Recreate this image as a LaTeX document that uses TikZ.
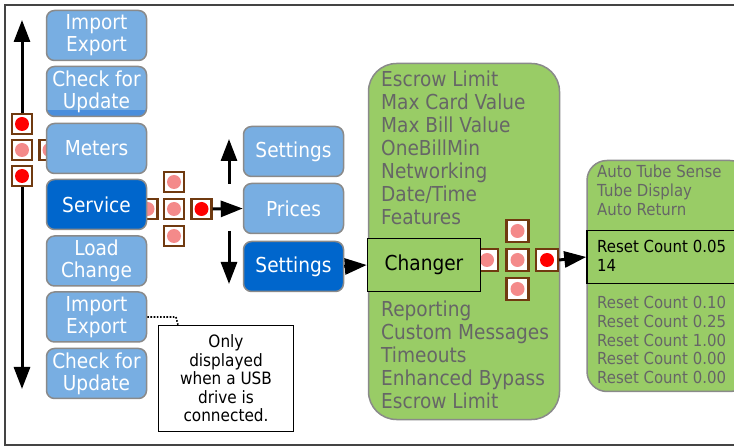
\documentclass[tikz,border=0pt]{standalone}
\usepackage{fontspec}
\setmainfont{DejaVu Sans}[FakeStretch=0.9]
\usetikzlibrary{arrows.meta}
\definecolor{lblue}{HTML}{78AEE2}
\definecolor{dblue}{HTML}{0066CC}
\definecolor{boxgray}{HTML}{8A8A8A}
\definecolor{lgreen}{HTML}{99CC66}
\definecolor{txtgray}{HTML}{666666}
\definecolor{brownsq}{HTML}{703A10}
\definecolor{pinkdot}{HTML}{F48A8A}
\definecolor{reddot}{HTML}{FF0000}
\definecolor{stripblue}{HTML}{4A8EDC}
\definecolor{framegray}{HTML}{444444}
\begin{document}
\begin{tikzpicture}[x=1pt,y=-1pt,
  menubox/.style={draw=boxgray, line width=1.5pt, rounded corners=8pt, minimum width=100pt, minimum height=50pt, inner sep=0pt, align=center, text=white, font=\fontsize{20.6}{22}\selectfont, fill=lblue},
  selbox/.style={menubox, fill=dblue},
  dsq/.style={draw=brownsq, line width=2.2pt, fill=white, minimum size=20pt, inner sep=0pt},
  bigsq/.style={dsq, minimum size=22pt},
  arr/.style={line width=3pt, -{Triangle[length=22pt,width=16pt]}},
  graytxt/.style={anchor=base west, text=txtgray, inner sep=0pt, font=\fontsize{20.6}{22}\selectfont},
  smalltxt/.style={anchor=base west, text=txtgray, inner sep=0pt, font=\fontsize{16.6}{18}\selectfont},
  blacksmall/.style={smalltxt, text=black},
  greenbox/.style={draw=boxgray, line width=1.5pt, fill=lgreen, inner sep=0pt},
  framebox/.style={draw=black, line width=1.5pt, inner sep=0pt}
]
\useasboundingbox (0,0) rectangle (734,446);
\clip (0,0) rectangle (734,446);
\fill[white] (0,0) rectangle (734,446);
\draw[framegray, line width=1.5pt] (5,5) rectangle (760,445);

% left column selector squares
\node[dsq] (s4) at (49.5,150) {};
\node[dsq] (s1) at (22,124) {};
\node[dsq] (s2) at (22,150) {};
\node[dsq] (s3) at (22,176) {};
\fill[pinkdot] (s4) circle (7);
\fill[reddot] (s1) circle (7);
\fill[pinkdot] (s2) circle (7);
\fill[reddot] (s3) circle (7);
\coordinate (lTop) at (22,20);
\coordinate (lBot) at (22,389);
\draw[arr] (s1.north) -- (lTop);
\draw[arr] (s3.south) -- (lBot);

% service cross (behind boxes)
\node[dsq] (sl) at (147.5,209) {};
\node[dsq] (sc) at (174,209) {};
\node[dsq] (st) at (174,182) {};
\node[dsq] (sb) at (174,236) {};
\node[dsq] (sr) at (201.5,209) {};
\fill[pinkdot] (sl) circle (7);
\fill[pinkdot] (sc) circle (7);
\fill[pinkdot] (st) circle (7);
\fill[pinkdot] (sb) circle (7);
\fill[reddot] (sr) circle (7);

% left column boxes
\node[menubox] (imp1) at (96.5,35.5) {Import\\Export};
\fill[lblue, rounded corners=8pt] (46.75,66.75) rectangle (146.25,116.25);
\begin{scope}
  \clip[rounded corners=8pt] (46.75,66.75) rectangle (146.25,116.25);
  \fill[stripblue] (40,110) rectangle (150,120);
\end{scope}
\node[menubox, fill=none] (chk1) at (96.5,91.5) {Check for\\Update};
\node[menubox] (met) at (96.5,148.5) {Meters};
\node[selbox] (srv) at (96.5,204.5) {Service};
\node[menubox] (load) at (96.5,261) {Load\\Change};
\node[menubox] (imp2) at (96.5,317) {Import\\Export};
\node[menubox] (chk2) at (96.5,373.5) {Check for\\Update};

% note
\node[framebox, minimum width=135pt, minimum height=106pt, align=center, font=\fontsize{17}{18.5}\selectfont] (note) at (226,378.5) {Only\\displayed\\when a USB\\drive is\\connected.};
\coordinate (dotc) at (176,317);
\coordinate (dotd) at (178,325);
\draw[line width=1.6pt, dash pattern=on 1.6pt off 1.6pt] (imp2.east) -- (dotc) -- (dotd);

% middle column
\node[menubox] (set1) at (293.5,151.5) {Settings};
\node[menubox] (pri) at (293.5,208.5) {Prices};
\node[selbox] (set2) at (293.5,266.5) {Settings};
\draw[arr] (sr.east) -- (pri.west);
\coordinate (upA) at (229,184);
\coordinate (upB) at (229,139);
\coordinate (dnA) at (229,231);
\coordinate (dnB) at (229,284);
\draw[arr] (upA) -- (upB);
\draw[arr] (dnA) -- (dnB);

% big green box
\node[greenbox, rounded corners=28pt, minimum width=191pt, minimum height=356pt] (big) at (464,241.5) {};
\foreach \t [count=\i from 0] in {Escrow Limit,Max Card Value,Max Bill Value,OneBillMin,Networking,Date/Time,Features}
  \node[graytxt] (bt\i) at (381,87+22.9*\i) {\t};
\foreach \t [count=\i from 0] in {Reporting,Custom Messages,Timeouts,Enhanced Bypass,Escrow Limit}
  \node[graytxt] (bb\i) at (381,317+22.8*\i) {\t};

% changer cross
\node[bigsq] (cl) at (487,260) {};
\node[bigsq] (cc) at (517.5,260) {};
\node[bigsq] (ct) at (517.5,231) {};
\node[bigsq] (cb) at (517.5,289) {};
\node[bigsq] (cr) at (547,260) {};
\fill[pinkdot] (cl) circle (7);
\fill[pinkdot] (cc) circle (7);
\fill[pinkdot] (ct) circle (7);
\fill[pinkdot] (cb) circle (7);
\fill[reddot] (cr) circle (7);

\node[framebox, fill=lgreen, minimum width=113pt, minimum height=53pt, font=\fontsize{20.6}{22}\selectfont] (chg) at (424,265) {Changer};
\draw[arr] (set2.east) -- (chg.west);

% right green box
\node[greenbox, rounded corners=20pt, minimum width=163pt, minimum height=231pt] (rbox) at (668.5,276) {};
\node[framebox, fill=lgreen, minimum width=163pt, minimum height=53pt] (reset) at (668.5,257) {};
\draw[arr] (cr.east) -- (reset.west);
\foreach \t [count=\i from 0] in {Auto Tube Sense,Tube Display,Auto Return}
  \node[smalltxt] (ra\i) at (597,178+18.7*\i) {\t};
\node[blacksmall] (r05) at (597,253) {Reset Count 0.05};
\node[blacksmall] (r14) at (597,272) {14};
\foreach \t [count=\i from 0] in {Reset Count 0.10,Reset Count 0.25,Reset Count 1.00,Reset Count 0.00,Reset Count 0.00}
  \node[smalltxt] (rc\i) at (597,309+18.6*\i) {\t};
\end{tikzpicture}
\end{document}
